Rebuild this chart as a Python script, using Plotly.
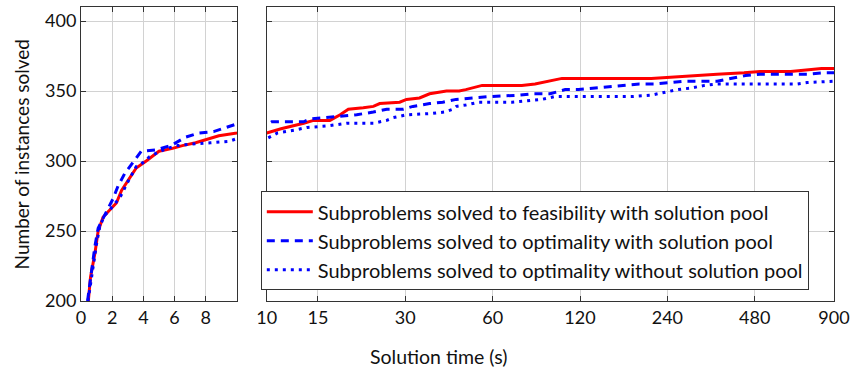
import plotly.graph_objects as go

# Cumulative number of instances solved over time (seconds) for three configurations
feas_pool_time = [0.47, 0.61, 0.89, 1.1, 1.42, 1.84, 2.27, 2.6, 3.0, 3.54, 4.18, 4.8, 5.0,
                  5.87, 6.5, 7.35, 8.0, 8.84, 10.0, 11.2, 12.4, 13.4, 14.5, 16.5, 17.9, 19.1,
                  21.5, 23.3, 24.5, 28.7, 30.3, 33.6, 36.4, 41.6, 46, 48.5, 55.2, 75.6, 84,
                  93.6, 104, 211, 247, 312, 356, 441, 501, 638, 712, 815, 900]
feas_pool_solved = [200, 217, 234, 250, 260, 265, 270, 279, 286, 295, 300, 305, 307,
                    309, 311, 313, 315, 318, 320, 323, 325, 327, 329, 329, 333, 337,
                    338, 339, 341, 342, 344, 345, 348, 350, 350, 351, 354, 354, 355,
                    357, 359, 359, 360, 361, 362, 363, 364, 364, 365, 366, 366]

opt_pool_time = [0.42, 0.5, 0.68, 0.89, 1.1, 1.53, 2.05, 2.37, 2.8, 3.33, 3.86, 4.8, 5.77,
                 6.7, 7.57, 8.5, 9.36, 10.0, 10.4, 13.4, 14.1, 16.1, 17.9, 20.4, 23.3, 25.9,
                 29.5, 31.9, 36.4, 40.4, 44.9, 51, 58.3, 73.8, 83, 94.6, 106.7, 118.5, 135,
                 154, 171, 192, 217, 247, 274, 356, 396, 446, 501, 727, 830, 900]
opt_pool_solved = [200, 207, 220, 239, 252, 262, 273, 282, 291, 299, 307, 308, 311,
                   317, 320, 321, 324, 326, 328, 328, 330, 331, 332, 333, 335, 337,
                   337, 339, 341, 342, 344, 345, 346, 347, 348, 348, 351, 351, 352,
                   353, 354, 355, 355, 356, 357, 357, 359, 361, 362, 362, 363, 363]

opt_nopool_time = [0.45, 0.7, 1.0, 1.2, 1.5, 1.84, 2.5, 3.0, 3.54, 4.0, 4.39, 4.91, 5.5,
                   6.2, 7.0, 8.3, 9.47, 10.0, 10.9, 12.4, 13.8, 16.1, 18.9, 23.3, 25.9, 27.3,
                   30.3, 37.3, 41, 43.8, 45, 48.5, 53.9, 70, 80, 88.7, 98.2, 118.5, 138.6,
                   180, 211, 222, 240, 260, 287, 322, 356, 672, 727, 880, 900]
opt_nopool_solved = [200, 220, 241, 253, 261, 265, 274, 285, 296, 299, 303, 306, 309,
                     311, 312, 313, 314, 316, 320, 322, 324, 325, 327, 327, 329, 331,
                     333, 334, 335, 337, 339, 340, 342, 342, 343, 344, 346, 346, 346,
                     346, 347, 348, 349, 351, 352, 354, 355, 355, 356, 357, 357]

series_names = [
    "Subproblems solved to feasibility with solution pool",
    "Subproblems solved to optimality with solution pool",
    "Subproblems solved to optimality without solution pool",
]

left_ticks = [0, 2, 4, 6, 8]
right_ticks = [10, 15, 30, 60, 120, 240, 480, 900]
y_ticks = [200, 250, 300, 350, 400]

FONT = "Lato, 'Open Sans', sans-serif"
FRAME = "#333333"
GRID = "#d2d2d2"
TEXT = "#111111"

styles = [
    dict(color="#ff0000", width=3, dash="solid"),
    dict(color="#0000ff", width=3, dash="8px,6px"),
    dict(color="#0000ff", width=3, dash="3px,5px"),
]
data = [
    (feas_pool_time, feas_pool_solved),
    (opt_pool_time, opt_pool_solved),
    (opt_nopool_time, opt_nopool_solved),
]

fig = go.Figure()
# Each series is drawn in both panels: linear 0-10 s on the left, log 10-900 s on the right
for i, ((t, s), name, st) in enumerate(zip(data, series_names, styles)):
    fig.add_trace(go.Scatter(x=t, y=s, mode="lines", name=name, line=st,
                             legendgroup=f"g{i}", xaxis="x", yaxis="y",
                             showlegend=True))
for i, ((t, s), name, st) in enumerate(zip(data, series_names, styles)):
    fig.add_trace(go.Scatter(x=t, y=s, mode="lines", name=name, line=st,
                             legendgroup=f"g{i}", xaxis="x2", yaxis="y2",
                             showlegend=False))

axis_common = dict(
    showline=True, linecolor=FRAME, linewidth=1, mirror="ticks",
    ticks="inside", ticklen=5, tickcolor=FRAME, tickwidth=1,
    showgrid=True, gridcolor=GRID, gridwidth=1, zeroline=False,
    tickfont=dict(family=FONT, size=18, color=TEXT),
)

W, H = 856, 374
L, R, T, B = 81, 17, 6, 73
pw = W - L - R
ph = H - T - B


def px_x(p):
    return (p - L) / pw


def px_y(p):
    return (H - B - p) / ph


fig.update_layout(
    width=W, height=H,
    margin=dict(l=L, r=R, t=T, b=B),
    paper_bgcolor="white", plot_bgcolor="white",
    font=dict(family=FONT, size=18, color=TEXT),
    xaxis=dict(domain=[0, px_x(238)], range=[0, 10], tickvals=left_ticks,
               anchor="y", **axis_common),
    yaxis=dict(range=[200, 410], tickvals=y_ticks, anchor="x", **axis_common),
    xaxis2=dict(domain=[px_x(268), 1], type="log", range=[1, 2.9542425],
                tickvals=right_ticks, ticktext=[str(v) for v in right_ticks],
                anchor="y2", **axis_common),
    yaxis2=dict(range=[200, 410], tickvals=y_ticks, anchor="x2",
                showticklabels=False, **axis_common),
    legend=dict(x=px_x(262), y=px_y(191), xanchor="left", yanchor="top",
                bgcolor="white", bordercolor=FRAME, borderwidth=1,
                font=dict(family=FONT, size=20, color=TEXT),
                itemwidth=46, tracegroupgap=0),
    annotations=[
        dict(text="Number of instances solved", xref="paper", yref="paper",
             x=px_x(21), y=0.5, xanchor="center", yanchor="middle",
             textangle=-90, showarrow=False,
             font=dict(family=FONT, size=19, color=TEXT)),
        dict(text="Solution time (s)", xref="paper", yref="paper",
             x=px_x(441), y=px_y(357), xanchor="center", yanchor="middle",
             showarrow=False, font=dict(family=FONT, size=19.5, color=TEXT)),
    ],
)

fig.write_html("out.html")
